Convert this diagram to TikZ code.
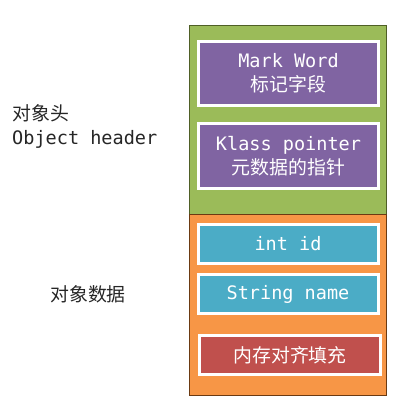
\documentclass[tikz,border=0pt]{standalone}
\usepackage{fontspec}
\setmonofont{DejaVu Sans Mono}[Scale=1.03]
\newfontfamily\cjk{Noto Sans CJK SC}[Scale=1.05]
\definecolor{hgreen}{HTML}{9BBB59}
\definecolor{hgreenline}{HTML}{4F5F26}
\definecolor{dorange}{HTML}{F79646}
\definecolor{dorangeline}{HTML}{6B3A12}
\definecolor{fpurple}{HTML}{8064A2}
\definecolor{fblue}{HTML}{4BACC6}
\definecolor{fred}{HTML}{C0504D}
\tikzset{
  section/.style={draw, line width=1.5pt, rectangle, inner sep=0pt},
  field/.style={draw=white, line width=3pt, rectangle, inner sep=0pt, minimum width=180pt, text=white, align=center, font=\fontsize{18}{24}\selectfont\ttfamily},
  lbl/.style={text=black!85, align=left, inner sep=0pt, font=\fontsize{18}{24}\selectfont\ttfamily}
}
\begin{document}
\begin{tikzpicture}[x=1pt,y=-1pt]
\useasboundingbox (0,0) rectangle (411,412);
\node[section, fill=hgreen, draw=hgreenline, minimum width=197pt, minimum height=189pt] (hdr) at (288,120) {};
\node[section, fill=dorange, draw=dorangeline, minimum width=197pt, minimum height=181pt] (dat) at (288,305) {};
\node[field, fill=fpurple, minimum height=64pt] (mw) at (288.5,73.5) {Mark Word\\{\cjk 标记字段}};
\node[field, fill=fpurple, minimum height=65pt] (kp) at (288.5,156) {Klass pointer\\{\cjk 元数据的指针}};
\node[field, fill=fblue, minimum height=39pt] (id) at (288,244) {int id};
\node[field, fill=fblue, minimum height=39pt] (nm) at (288,294) {String name};
\node[field, fill=fred, minimum height=39pt, minimum width=181pt] (pad) at (290,355) {\cjk 内存对齐填充};
\node[lbl, anchor=west] (oh) at (12,126) {{\cjk 对象头}\\Object header};
\node[lbl, anchor=center] (od) at (88,294) {\cjk 对象数据};
\end{tikzpicture}
\end{document}
